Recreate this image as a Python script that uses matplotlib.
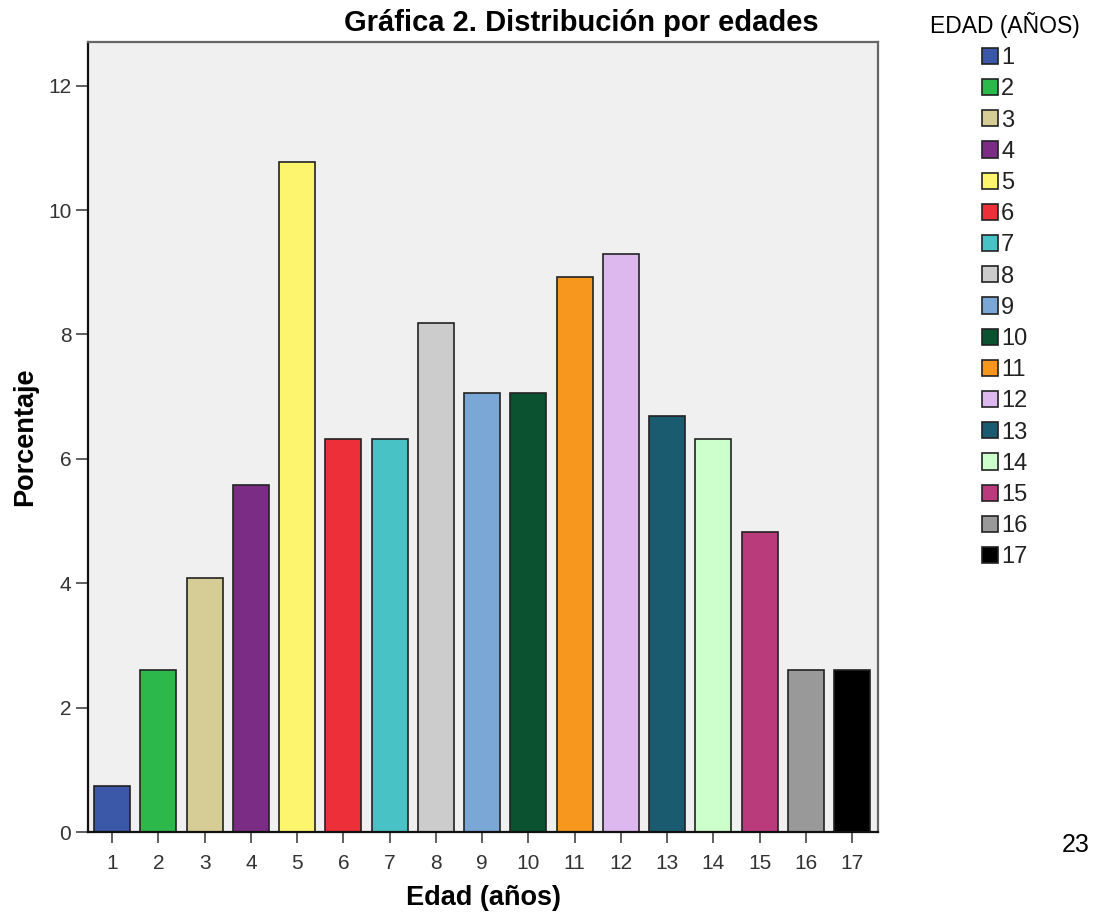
import matplotlib
matplotlib.use("Agg")
import matplotlib.pyplot as plt
from matplotlib.patches import Patch

plt.rcParams['font.family'] = ['Liberation Sans', 'DejaVu Sans']

edades = list(range(1, 18))
porcentaje = [0.74, 2.60, 4.09, 5.58, 10.78, 6.32, 6.32, 8.18, 7.06, 7.06,
              8.92, 9.29, 6.69, 6.32, 4.83, 2.60, 2.60]
colores = ['#3A57A8', '#2DB84B', '#D5CC96', '#7B2C84', '#FEF56E', '#EC2F38',
           '#48C2C5', '#CCCCCC', '#7BA7D6', '#0A5230', '#F7971D', '#DDB8EF',
           '#1B5B70', '#CCFFCC', '#BA3B7C', '#999999', '#000000']
y_ticks = [0, 2, 4, 6, 8, 10, 12]

fig = plt.figure(figsize=(10.95, 9.15), dpi=100)
ax = fig.add_axes([0.0804, 0.0907, 0.7214, 0.8633])
ax.set_facecolor('#F0F0F0')

ax.bar(edades, porcentaje, width=0.78, color=colores,
       edgecolor='#222222', linewidth=1.2, zorder=2)

ax.set_xlim(0.48, 17.56)
ax.set_ylim(0, 12.7)
ax.set_xticks(edades)
ax.set_yticks(y_ticks)
ax.tick_params(axis='x', length=8, width=1.2, color='#444444',
               labelsize=15, labelcolor='#333333', pad=8)
ax.tick_params(axis='y', length=9, width=1.2, color='#444444',
               labelsize=15, labelcolor='#333333', pad=3)

for side in ['left', 'bottom']:
    ax.spines[side].set_color('#111111')
    ax.spines[side].set_linewidth(1.6)
for side in ['top', 'right']:
    ax.spines[side].set_color('#666666')
    ax.spines[side].set_linewidth(1.6)

ax.set_xlabel('Edad (años)', fontsize=19.5, fontweight='bold', va='center')
ax.xaxis.set_label_coords(0.5, -0.083)
ax.set_ylabel('Porcentaje', fontsize=19.5, fontweight='bold', va='center')
ax.yaxis.set_label_coords(-0.08, 0.5)

fig.text(0.531, 0.975, 'Gráfica 2. Distribución por edades',
         ha='center', va='center', fontsize=21, fontweight='bold')

handles = [Patch(facecolor=c, edgecolor='#222222', linewidth=1.2) for c in colores]
leg = fig.legend(handles, [str(e) for e in edades], title='EDAD (AÑOS)',
                 loc='upper left', bbox_to_anchor=(0.834, 1.005),
                 frameon=False, fontsize=17, title_fontsize=16.5,
                 handlelength=0.68, handleheight=0.68, handletextpad=0.15,
                 labelspacing=0.39, borderpad=0.2)
for t in leg.get_texts():
    t.set_color('#222222')

fig.text(0.970, 0.076, '23', fontsize=18, ha='left', va='center')

fig.savefig('out.png', dpi=100)
